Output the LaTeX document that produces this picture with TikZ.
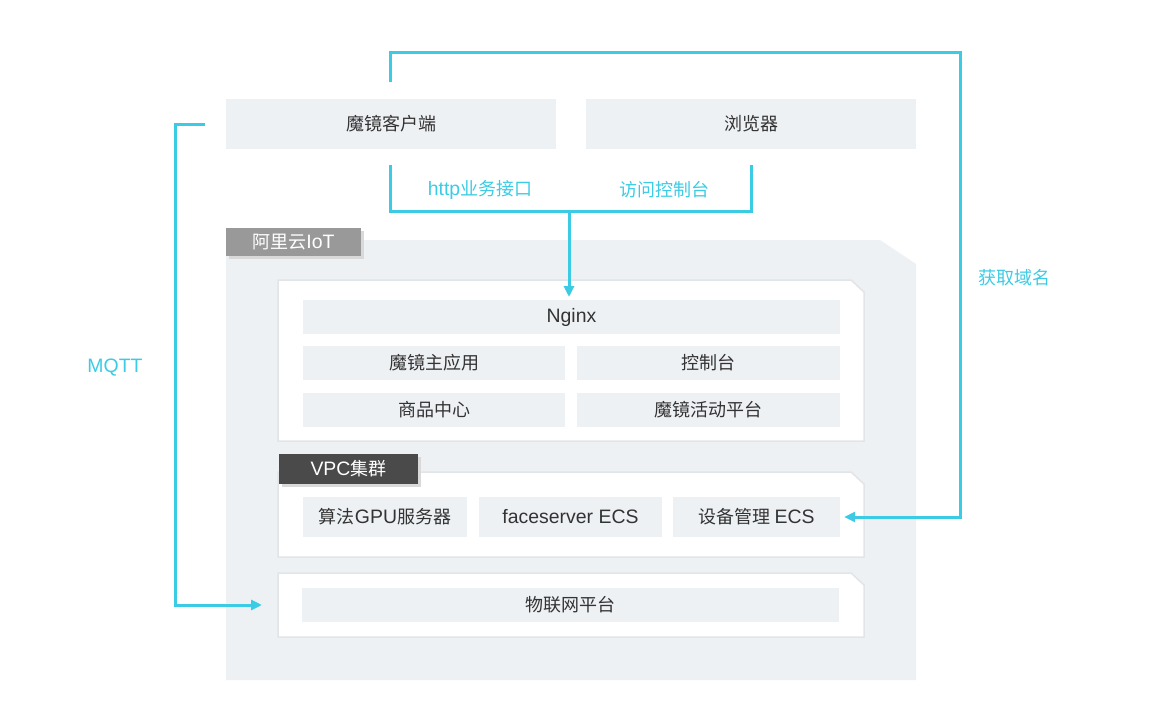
\documentclass[tikz,border=0pt]{standalone}
\usepackage{fontspec}
\setmainfont{Noto Sans CJK SC}
\newfontfamily\lat{Liberation Sans}[Scale=1.08]
\usetikzlibrary{arrows.meta}
\definecolor{cy}{HTML}{3CCBE4}
\definecolor{boxg}{HTML}{EEF1F4}
\definecolor{pane}{HTML}{E2E5E8}
\definecolor{txt}{HTML}{333333}
\definecolor{lbl}{HTML}{999999}
\definecolor{dlbl}{HTML}{4A4A4A}
\begin{document}
\begin{tikzpicture}[x=1pt,y=-1pt,
  cell/.style={fill=boxg,draw=none,text=txt,font=\fontsize{18}{20}\selectfont,inner sep=0pt,anchor=center},
  panel/.style={fill=white,draw=pane,line width=1.5pt},
  conn/.style={draw=cy,line width=3pt},
  arr/.style={conn,-{Triangle[length=11pt,width=10pt]}},
  cylab/.style={text=cy,font=\fontsize{18}{20}\selectfont},
  tag/.style={text=white,font=\fontsize{18}{20}\selectfont,inner sep=0pt,anchor=center}]
\useasboundingbox (0,0) rectangle (1160,720);
% big gray area
\fill[boxg] (226,240) -- (880,240) -- (916,264) -- (916,680) -- (226,680) -- cycle;
% panels
\draw[panel] (278,280) -- (851,280) -- (864,292) -- (864,441) -- (278,441) -- cycle;
\draw[panel] (278,472) -- (851,472) -- (864,484) -- (864,557) -- (278,557) -- cycle;
\draw[panel] (278,573) -- (851,573) -- (864,585) -- (864,637) -- (278,637) -- cycle;
% labels
\fill[black!15] (229,231) rectangle (364,259);
\node[tag,fill=lbl,minimum width=135pt,minimum height=28pt] (aliyun) at (293.5,242) {阿里云{\lat IoT}};
\fill[black!15] (282,457) rectangle (421,487);
\node[tag,fill=dlbl,minimum width=139pt,minimum height=30pt] (vpc) at (348.5,469) {{\lat VPC}集群};
% top boxes
\node[cell,minimum width=330pt,minimum height=50pt] (client) at (391,124) {魔镜客户端};
\node[cell,minimum width=330pt,minimum height=50pt] (browser) at (751,124) {浏览器};
% panel 1
\node[cell,minimum width=537pt,minimum height=34pt] (nginx) at (571.5,317) {\lat Nginx};
\node[cell,minimum width=262pt,minimum height=34pt] (main) at (434,363) {魔镜主应用};
\node[cell,minimum width=263pt,minimum height=34pt] (console) at (708.5,363) {控制台};
\node[cell,minimum width=262pt,minimum height=34pt] (goods) at (434,410) {商品中心};
\node[cell,minimum width=263pt,minimum height=34pt] (activity) at (708.5,410) {魔镜活动平台};
% panel 2
\node[cell,minimum width=164pt,minimum height=40pt] (gpu) at (385,517) {算法{\lat GPU}服务器};
\node[cell,minimum width=183pt,minimum height=40pt] (face) at (570.5,517) {\lat faceserver ECS};
\node[cell,minimum width=167pt,minimum height=40pt] (dev) at (756.5,517) {设备管理 {\lat ECS}};
% panel 3
\node[cell,minimum width=537pt,minimum height=34pt] (iot) at (570.5,605) {物联网平台};
% coordinates
\coordinate (c1) at (390,82);
\coordinate (c2) at (390,165);
\coordinate (b2) at (751,165);
\coordinate (j) at (569,211);
\coordinate (m1) at (205,124);
\coordinate (m2) at (262,605);
% connectors
\draw[conn] (c2) -- (390,211) -- (751,211) -- (b2);
\draw[arr] (j) -- (569,297);
\draw[arr] (c1) -- (390,52) -- (960,52) -- (960,517) -- ([xshift=4pt]dev.east);
\draw[arr] (m1) -- (175,124) -- (175,605) -- (m2);
% connector labels
\node[cylab] (l1) at (480,190) {{\lat http}业务接口};
\node[cylab] (l2) at (664,190) {访问控制台};
\node[cylab] (l3) at (1014,278) {获取域名};
\node[cylab] (l4) at (115,368) {\lat MQTT};
\end{tikzpicture}
\end{document}
